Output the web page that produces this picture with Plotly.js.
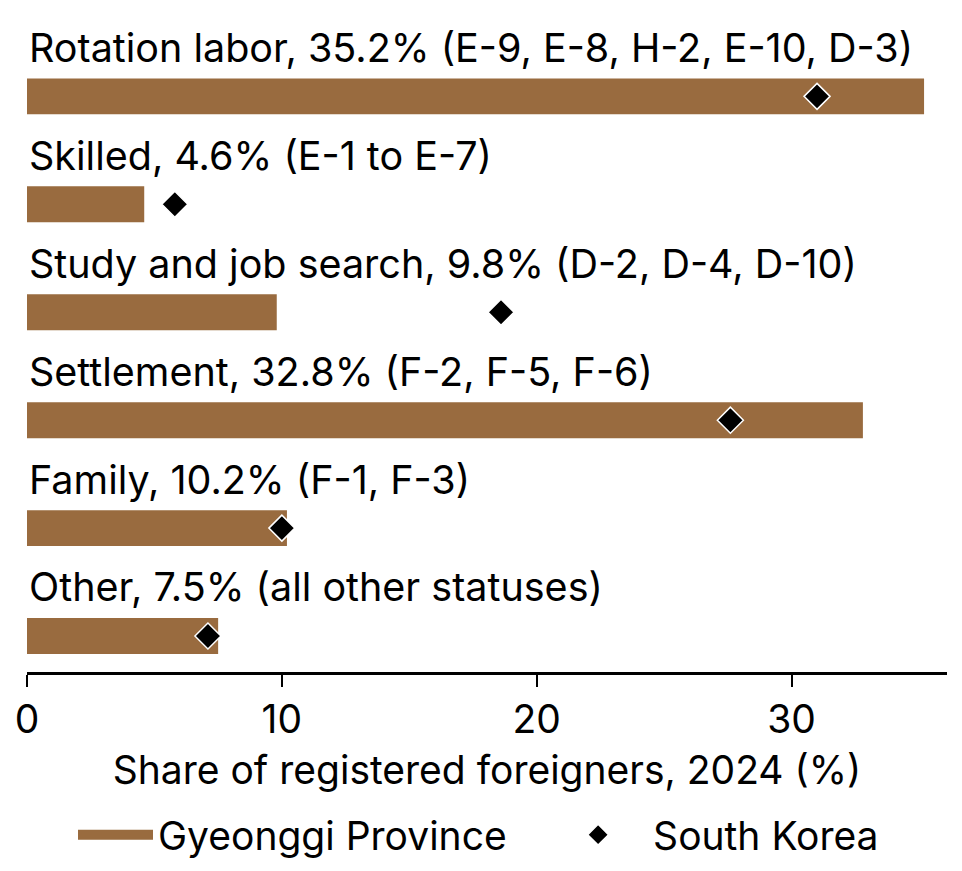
<!DOCTYPE html>
<html>
<head>
<meta charset="utf-8">
<script src="https://cdn.plot.ly/plotly-3.0.1.min.js"></script>
<style>
  html, body { margin: 0; padding: 0; background: #fff; }
  #plot { width: 962px; height: 871px; }
</style>
</head>
<body>
<div id="plot"></div>
<script>
// status groups, top to bottom
var groups = ['Rotation labor', 'Skilled', 'Study and job search', 'Settlement', 'Family', 'Other'];
var visas = ['(E-9, E-8, H-2, E-10, D-3)', '(E-1 to E-7)', '(D-2, D-4, D-10)', '(F-2, F-5, F-6)', '(F-1, F-3)', '(all other statuses)'];
var gyeonggi = [35.2, 4.6, 9.8, 32.8, 10.2, 7.5];
var korea = [31.0, 5.8, 18.6, 27.6, 10.0, 7.1];
var brown = '#996b3f';

var pos = groups.map(function (g, i) { return i; });

var bars = {
  type: 'bar',
  orientation: 'h',
  x: gyeonggi,
  y: pos,
  width: 0.333,
  name: 'Gyeonggi Province',
  marker: {color: brown},
  showlegend: false,
  hoverinfo: 'x'
};

// legend entry only, wide swatch like the bars
var barKey = {
  type: 'scatter',
  mode: 'lines',
  x: [null],
  y: [null],
  name: 'Gyeonggi Province',
  line: {color: brown, width: 36},
  legend: 'legend'
};

var pts = {
  type: 'scatter',
  mode: 'markers',
  x: korea,
  y: pos,
  name: 'South Korea',
  marker: {symbol: 'diamond', size: 20, color: '#000', line: {color: '#fff', width: 1.5}},
  cliponaxis: false,
  legend: 'legend2'
};

// label above every bar
var notes = groups.map(function (g, i) {
  return {
    x: 0, y: i - 0.45, xref: 'x', yref: 'y',
    xanchor: 'left', yanchor: 'middle',
    text: g + ', ' + gyeonggi[i].toFixed(1) + '% ' + visas[i],
    showarrow: false,
    font: {size: 39.5, color: '#000'}
  };
});

var layout = {
  width: 962, height: 871,
  margin: {l: 27, r: 15, t: 10, b: 199, autoexpand: false},
  paper_bgcolor: '#fff',
  plot_bgcolor: '#fff',
  font: {family: 'Inter, "DejaVu Sans", sans-serif', size: 39, color: '#000'},
  showlegend: true,
  legend: {
    orientation: 'h',
    x: 0.05, xanchor: 'left',
    y: -0.246, yanchor: 'middle',
    font: {size: 39},
    itemwidth: 75
  },
  legend2: {
    orientation: 'h',
    x: 0.561, xanchor: 'left',
    y: -0.246, yanchor: 'middle',
    font: {size: 39},
    itemwidth: 100
  },
  xaxis: {
    range: [0, 36.1],
    tickvals: [0, 10, 20, 30],
    ticks: 'outside', ticklen: 12, tickwidth: 2, tickcolor: '#000',
    showline: true, linecolor: '#000', linewidth: 2.5,
    showgrid: false, zeroline: false,
    tickfont: {size: 39},
    title: {text: 'Share of registered foreigners, 2024 (%)', font: {size: 39}, standoff: 16}
  },
  yaxis: {
    range: [5.333, -0.8],
    showticklabels: false, showgrid: false, zeroline: false, showline: false, ticks: ''
  },
  annotations: notes
};

Plotly.newPlot('plot', [barKey, bars, pts], layout, {displayModeBar: false, staticPlot: true});
</script>
</body>
</html>
